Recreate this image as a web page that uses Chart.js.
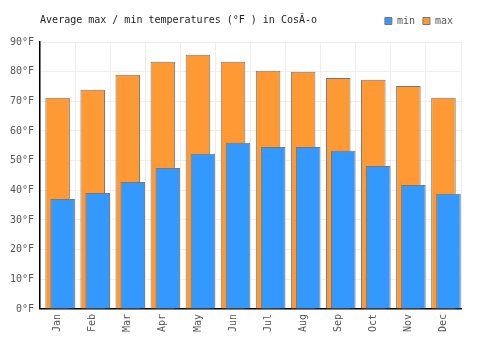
<!DOCTYPE html>
<html>
<head>
<meta charset="utf-8">
<script src="https://cdn.jsdelivr.net/npm/chart.js@4/dist/chart.umd.min.js"></script>
<style>
  html, body { margin: 0; padding: 0; background: #fff; }
  #wrap { width: 500px; height: 350px; }
</style>
</head>
<body>
<div id="wrap"><canvas id="chart"></canvas></div>
<script>
// === DATA ===
const months = ["Jan", "Feb", "Mar", "Apr", "May", "Jun", "Jul", "Aug", "Sep", "Oct", "Nov", "Dec"];
const maxTemps = [71.2, 73.9, 79.0, 83.3, 85.7, 83.3, 80.3, 80.0, 77.9, 77.3, 75.2, 71.2];
const minTemps = [37.1, 39.1, 42.8, 47.5, 52.3, 56.0, 54.6, 54.6, 53.3, 48.2, 41.8, 38.8];
const spacer = months.map(() => null); // empty slot so max sits on the tick and min shifts right
const titleText = "Average max / min temperatures (°F ) in CosĂ-o";

const FONT = "'DejaVu Sans Mono', 'Liberation Mono', monospace";

// draw datasets left to right so min lands on top of max
const drawOrder = {
    id: "drawOrder",
    beforeDatasetsDraw(chart) {
        const area = chart.chartArea;
        const ctx = chart.ctx;
        ctx.save();
        ctx.beginPath();
        ctx.rect(area.left, area.top, area.right - area.left, area.bottom - area.top);
        ctx.clip();
        chart.getSortedVisibleDatasetMetas().forEach((meta) => meta.controller.draw());
        ctx.restore();
        return false;
    },
};

// a bit more room under the legend row
const legendGap = {
    id: "legendGap",
    beforeLayout(chart) {
        const legend = chart.legend;
        if (legend && !legend._gapPatched) {
            const fit = legend.fit.bind(legend);
            legend.fit = function () {
                fit();
                this.height += 6;
            };
            legend._gapPatched = true;
        }
    },
};

// title sits on the same row as the legend
const titleRow = {
    id: "titleRow",
    afterDraw(chart) {
        const ctx = chart.ctx;
        ctx.save();
        ctx.font = "10px " + FONT;
        ctx.fillStyle = "#222";
        ctx.textBaseline = "middle";
        ctx.fillText(titleText, chart.chartArea.left, 20);
        ctx.restore();
    },
};

new Chart(document.getElementById("chart"), {
    type: "bar",
    data: {
        labels: months,
        datasets: [
            { label: "", data: spacer },
            {
                label: "max",
                data: maxTemps,
                backgroundColor: "#ff9933",
                borderColor: "#777777",
                borderWidth: 1,
            },
            {
                label: "min",
                data: minTemps,
                backgroundColor: "#3399ff",
                borderColor: "#777777",
                borderWidth: 1,
            },
        ],
    },
    options: {
        responsive: true,
        maintainAspectRatio: false,
        animation: false,
        categoryPercentage: 0.4286,
        barPercentage: 4.9,
        layout: { padding: { left: 4, right: 39, top: 8, bottom: 13 } },
        plugins: {
            legend: {
                position: "top",
                align: "end",
                reverse: true,
                labels: {
                    filter: (item) => item.text !== "",
                    boxWidth: 7,
                    boxHeight: 7,
                    padding: 8,
                    color: "#555",
                    font: { family: FONT, size: 10 },
                },
            },
            tooltip: { enabled: false },
        },
        scales: {
            x: {
                grid: { color: "#eeeeee", drawTicks: false },
                border: { color: "#000", width: 1.5 },
                ticks: {
                    minRotation: 90,
                    maxRotation: 90,
                    padding: 5,
                    color: "#555",
                    font: { family: FONT, size: 10 },
                },
            },
            y: {
                min: 0,
                max: 90,
                grid: { color: "#eeeeee", drawTicks: false },
                border: { color: "#000", width: 1.5 },
                ticks: {
                    stepSize: 10,
                    padding: 6,
                    color: "#555",
                    font: { family: FONT, size: 10 },
                    callback: (v) => v + "°F",
                },
            },
        },
    },
    plugins: [drawOrder, legendGap, titleRow],
});
</script>
</body>
</html>
